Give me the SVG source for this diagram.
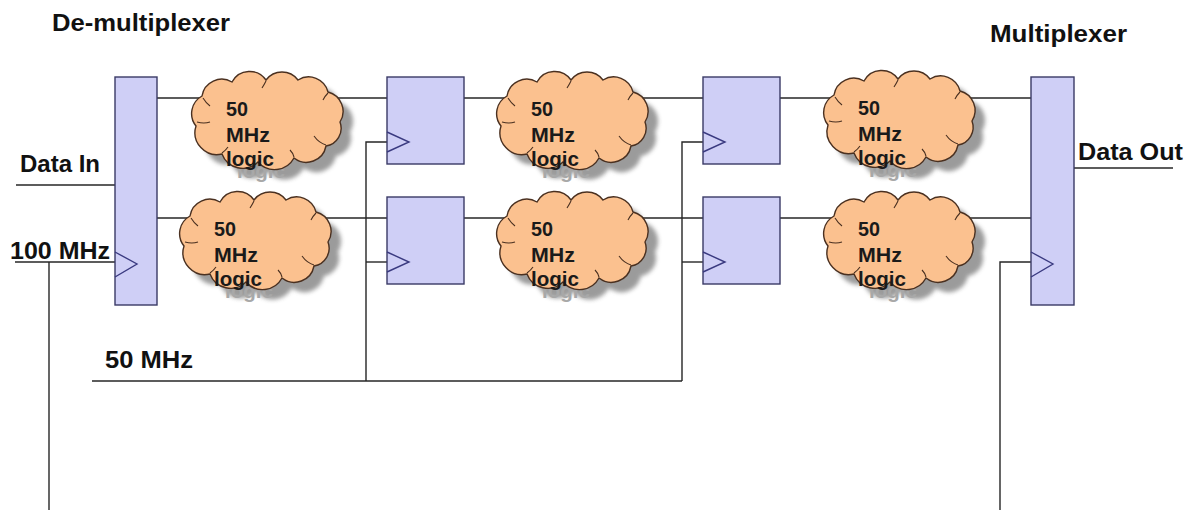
<svg xmlns="http://www.w3.org/2000/svg" xmlns:xlink="http://www.w3.org/1999/xlink" width="1194" height="510" viewBox="0 0 1194 510">
  <style>
    .wire { stroke: #262626; stroke-width: 1.4; fill: none; }
    .blk { fill: #cfcff6; stroke: #3a3a66; stroke-width: 1.4; }
    .clk { fill: none; stroke: #3a3a80; stroke-width: 1.4; }
    .lbl { font-family: "Liberation Sans", Arial, sans-serif; font-weight: bold; font-size: 24px; fill: #111; }
    .ct { font-family: "Liberation Sans", Arial, sans-serif; font-weight: bold; font-size: 20px; fill: #1a1a1a; }
    .cts { font-family: "Liberation Sans", Arial, sans-serif; font-weight: bold; font-size: 20px; fill: #a8a8a8; }
    .cloud { fill: #fbc18f; stroke: #4a3020; stroke-width: 1.4; }
    .cshadow { fill: #7a7a7a; opacity: 0.75; }
    .cdetail { fill: none; stroke: #4a3020; stroke-width: 1.1; }
  </style>
  <defs>
    <filter id="soft" x="-20%" y="-20%" width="140%" height="140%">
      <feGaussianBlur stdDeviation="2.2"/>
    </filter>
    <path id="cloudShape" d="M 6,50 A 20,20 0 0 1 12,20 A 20,20 0 0 1 42,6 A 20,20 0 0 1 76,4 A 20,20 0 0 1 108,4 A 20,20 0 0 1 138,16 A 20,20 0 0 1 150,46 A 18,18 0 0 1 136,70 A 20,20 0 0 1 104,82 A 22,22 0 0 1 68,86 A 22,22 0 0 1 32,78 A 22,22 0 0 1 6,50 Z"/>
    <!-- one logic cloud: shadow, text shadow, body, inner creases, label -->
    <g id="logicCloud">
      <use xlink:href="#cloudShape" class="cshadow" transform="translate(10,10)" filter="url(#soft)"/>
      <text class="cts" x="47" y="102" textLength="48" lengthAdjust="spacingAndGlyphs">logic</text>
      <use xlink:href="#cloudShape" class="cloud"/>
      <path class="cdetail" d="M 7,46 q 7,2 13,0 M 13,22 q 3,5 7,8 M 76,5 q -2,4 -4,7 M 138,17 q -3,3 -5,7 M 136,69 q -7,-2 -12,-9 M 104,81 q -1,-4 -4,-7 M 32,77 q 4,-3 6,-6"/>
      <text class="ct" x="36" y="40" textLength="22" lengthAdjust="spacingAndGlyphs">50</text>
      <text class="ct" x="36" y="66" textLength="44" lengthAdjust="spacingAndGlyphs">MHz</text>
      <text class="ct" x="36" y="90" textLength="48" lengthAdjust="spacingAndGlyphs">logic</text>
    </g>
  </defs>

  <rect width="1194" height="510" fill="#ffffff"/>

  <!-- connectors -->
  <g id="connectors">
    <!-- data paths -->
    <line class="wire" x1="157" y1="98" x2="387" y2="98"/>
    <line class="wire" x1="464" y1="98" x2="703" y2="98"/>
    <line class="wire" x1="780" y1="98" x2="1031" y2="98"/>
    <line class="wire" x1="157" y1="218" x2="387" y2="218"/>
    <line class="wire" x1="464" y1="218" x2="703" y2="218"/>
    <line class="wire" x1="780" y1="218" x2="1031" y2="218"/>
    <line class="wire" x1="16" y1="185" x2="115" y2="185"/>
    <line class="wire" x1="1074" y1="168" x2="1173" y2="168"/>
    <!-- 100 MHz clock -->
    <polyline class="wire" points="15,262 115,262"/>
    <line class="wire" x1="49" y1="262" x2="49" y2="510"/>
    <polyline class="wire" points="1000,510 1000,262 1031,262"/>
    <!-- 50 MHz clock -->
    <polyline class="wire" points="92,381 682,381"/>
    <polyline class="wire" points="387,142 366,142 366,381"/>
    <line class="wire" x1="366" y1="262" x2="387" y2="262"/>
    <polyline class="wire" points="703,142 682,142 682,381"/>
    <line class="wire" x1="682" y1="262" x2="703" y2="262"/>
  </g>

  <!-- de-multiplexer -->
  <g id="demux">
    <rect class="blk" x="115" y="77" width="42" height="228"/>
    <polyline class="clk" points="115,252 137,264 115,277"/>
  </g>

  <!-- first register stage -->
  <g id="reg1a">
    <rect class="blk" x="387" y="77" width="77" height="87"/>
    <polyline class="clk" points="387,132 409,142 387,152"/>
  </g>
  <g id="reg1b">
    <rect class="blk" x="387" y="197" width="77" height="87"/>
    <polyline class="clk" points="387,252 409,262 387,272"/>
  </g>

  <!-- second register stage -->
  <g id="reg2a">
    <rect class="blk" x="703" y="77" width="77" height="87"/>
    <polyline class="clk" points="703,132 725,142 703,152"/>
  </g>
  <g id="reg2b">
    <rect class="blk" x="703" y="197" width="77" height="87"/>
    <polyline class="clk" points="703,252 725,262 703,272"/>
  </g>

  <!-- multiplexer -->
  <g id="mux">
    <rect class="blk" x="1031" y="77" width="43" height="228"/>
    <polyline class="clk" points="1031,252 1053,264 1031,277"/>
  </g>

  <!-- 50 MHz logic clouds -->
  <g id="cloud1a"><use xlink:href="#logicCloud" transform="translate(190,76)"/></g>
  <g id="cloud1b"><use xlink:href="#logicCloud" transform="translate(178,196)"/></g>
  <g id="cloud2a"><use xlink:href="#logicCloud" transform="translate(495,76)"/></g>
  <g id="cloud2b"><use xlink:href="#logicCloud" transform="translate(495,196)"/></g>
  <g id="cloud3a"><use xlink:href="#logicCloud" transform="translate(822,75)"/></g>
  <g id="cloud3b"><use xlink:href="#logicCloud" transform="translate(822,196)"/></g>

  <!-- labels -->
  <g id="labels">
    <text class="lbl" x="52" y="31" textLength="178" lengthAdjust="spacingAndGlyphs">De-multiplexer</text>
    <text class="lbl" x="990" y="42" textLength="137" lengthAdjust="spacingAndGlyphs">Multiplexer</text>
    <text class="lbl" x="20" y="172" textLength="80" lengthAdjust="spacingAndGlyphs">Data In</text>
    <text class="lbl" x="10" y="259" textLength="100" lengthAdjust="spacingAndGlyphs">100 MHz</text>
    <text class="lbl" x="1078" y="160" textLength="105" lengthAdjust="spacingAndGlyphs">Data Out</text>
    <text class="lbl" x="105" y="368" textLength="88" lengthAdjust="spacingAndGlyphs">50 MHz</text>
  </g>
</svg>
